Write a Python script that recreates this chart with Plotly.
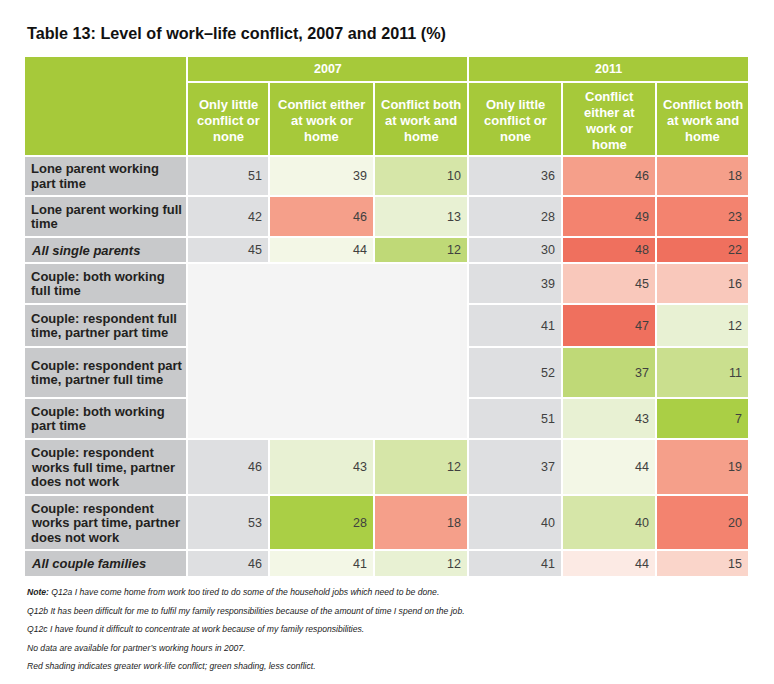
import plotly.graph_objects as go

# ---------------- data ----------------
title = "Table 13: Level of work–life conflict, 2007 and 2011 (%)"
years = ["2007", "2011"]
col_heads = ["Only little<br>conflict or<br>none", "Conflict either<br>at work or<br>home",
             "Conflict both<br>at work and<br>home",
             "Only little<br>conflict or<br>none", "Conflict<br>either at<br>work or<br>home",
             "Conflict both<br>at work and<br>home"]
row_labels = ["Lone parent working<br>part time",
              "Lone parent working full<br>time",
              "All single parents",
              "Couple: both working<br>full time",
              "Couple: respondent full<br>time, partner part time",
              "Couple: respondent part<br>time, partner full time",
              "Couple: both working<br>part time",
              "Couple: respondent<br>works full time, partner<br>does not work",
              "Couple: respondent<br>works part time, partner<br>does not work",
              "All couple families"]
italic_rows = [2, 9]

little_2007 = [51, 42, 45, None, None, None, None, 46, 53, 46]
either_2007 = [39, 46, 44, None, None, None, None, 43, 28, 41]
both_2007 = [10, 13, 12, None, None, None, None, 12, 18, 12]
little_2011 = [36, 28, 30, 39, 41, 52, 51, 37, 40, 41]
either_2011 = [46, 49, 48, 45, 47, 37, 43, 44, 40, 44]
both_2011 = [18, 23, 22, 16, 12, 11, 7, 19, 20, 15]

notes = ["<b>Note:</b> Q12a I have come home from work too tired to do some of the household jobs which need to be done.",
         "Q12b It has been difficult for me to fulfil my family responsibilities because of the amount of time I spend on the job.",
         "Q12c I have found it difficult to concentrate at work because of my family responsibilities.",
         "No data are available for partner’s working hours in 2007.",
         "Red shading indicates greater work-life conflict; green shading, less conflict."]

# ---------------- style ----------------
PAL = {'r4': '#EF705E', 'r3': '#F3836F', 'r2': '#F59F8A', 'r1': '#F9C8BB', 'r0b': '#FAD5CA',
       'r0': '#FCEAE4', 'g0': '#F3F7E6', 'g1': '#E8F1D3', 'g2': '#D6E6A8', 'g2b': '#CADF8E',
       'g3': '#BFD977', 'g4': '#AACF45', 'gray': '#DEDFE1'}
shade = [
    ['gray'] * 10,
    ['g0', 'r2', 'g0', None, None, None, None, 'g1', 'g4', 'g0'],
    ['g2', 'g1', 'g3', None, None, None, None, 'g2', 'r2', 'g1'],
    ['gray'] * 10,
    ['r2', 'r3', 'r4', 'r1', 'r4', 'g3', 'g1', 'g0', 'g2', 'r0'],
    ['r2', 'r3', 'r4', 'r1', 'g1', 'g2b', 'g4', 'r2', 'r3', 'r0b'],
]
HEAD = '#A6C93A'
LABEL_BG = '#C8C9CB'
EMPTY_BG = '#F4F4F4'
FONT = "Liberation Sans, Arial, Helvetica, sans-serif"

col_edges = [(25, 186), (188, 268), (270, 373), (375, 467), (469, 561), (563, 655), (657, 748)]
row_edges = [(157, 195), (197, 236), (238, 262), (264, 303), (305, 346), (348, 397),
             (399, 438), (440, 494), (496, 549), (551, 576)]
head_top, year_bot, sub_top, head_bot = 57, 81, 83, 155
PAGE_OFF = 8  # browser default body margin

values = [little_2007, either_2007, both_2007, little_2011, either_2011, both_2011]

shapes = []
ann = []


def rect(x0, x1, y0, y1, color):
    shapes.append(dict(type='rect', xref='x', yref='y', x0=x0, x1=x1, y0=y0, y1=y1,
                       fillcolor=color, line=dict(width=0), layer='below'))


def text(x, y, s, size, color, xanchor='center', bold=False):
    if bold:
        s = "<b>" + s + "</b>"
    ann.append(dict(x=x, y=y, xref='x', yref='y', text=s, showarrow=False,
                    xanchor=xanchor, yanchor='middle', font=dict(family=FONT, size=size, color=color)))


def lines(x, yc, s, size, color, spacing, xanchor='center', bold=False):
    parts = s.split("<br>")
    n = len(parts)
    for i, p in enumerate(parts):
        text(x, yc + (i - (n - 1) / 2) * spacing, p, size, color, xanchor, bold)


# header
rect(col_edges[0][0], col_edges[0][1], head_top, head_bot, HEAD)
for k, yr in enumerate(years):
    cx0 = col_edges[1 + 3 * k][0]
    cx1 = col_edges[3 + 3 * k][1]
    rect(cx0, cx1, head_top, year_bot, HEAD)
    text((cx0 + cx1) / 2, (head_top + year_bot) / 2, yr, 12.5, 'white', bold=True)
for j, h in enumerate(col_heads):
    x0, x1 = col_edges[j + 1]
    rect(x0, x1, sub_top, head_bot, HEAD)
    lines((x0 + x1) / 2, (sub_top + head_bot) / 2 + 1, h, 13, 'white', 16, bold=True)

# body
for i, lab in enumerate(row_labels):
    y0, y1 = row_edges[i]
    yc = (y0 + y1) / 2
    rect(col_edges[0][0], col_edges[0][1], y0, y1, LABEL_BG)
    s = lab if i not in italic_rows else "<i>" + lab + "</i>"
    lines(29, yc, s, 13, '#231F20', 14.5, xanchor='left', bold=True)
    for j in range(6):
        v = values[j][i]
        if v is None:
            continue
        x0, x1 = col_edges[j + 1]
        rect(x0, x1, y0, y1, PAL[shade[j][i]])
        text(x1 - 4, yc, str(v), 12.5, '#404040', xanchor='right')

# merged empty block where 2007 data are missing
missing = [i for i in range(len(row_labels)) if little_2007[i] is None]
if missing:
    rect(col_edges[1][0], col_edges[3][1], row_edges[missing[0]][0], row_edges[missing[-1]][1], EMPTY_BG)

# title and notes
text(25, 33, "<b>" + title + "</b>", 16.2, '#111111', xanchor='left')
for k, nline in enumerate(notes):
    text(25, 592 + 18.5 * k, "<i>" + nline + "</i>", 8.6, '#222222', xanchor='left')

W, H = 774, 684
fig = go.Figure()
fig.add_trace(go.Scatter(x=[PAGE_OFF, W], y=[PAGE_OFF, H], mode='markers', marker=dict(opacity=0),
                         hoverinfo='skip', showlegend=False))
fig.update_layout(width=W - PAGE_OFF, height=H - PAGE_OFF, margin=dict(l=0, r=0, t=0, b=0),
                  paper_bgcolor='white', plot_bgcolor='white', shapes=shapes, annotations=ann,
                  showlegend=False)
fig.update_xaxes(range=[PAGE_OFF, W], visible=False, fixedrange=True)
fig.update_yaxes(range=[H, PAGE_OFF], visible=False, fixedrange=True)
fig.write_html("out.html")
